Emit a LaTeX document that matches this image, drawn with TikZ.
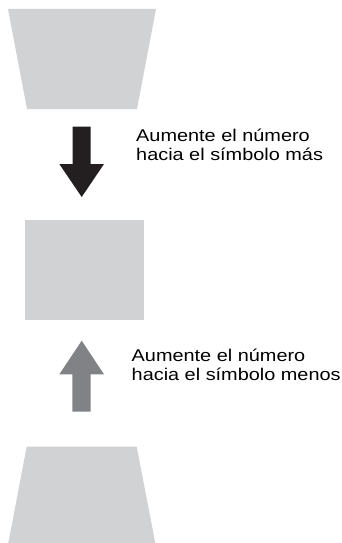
\documentclass[tikz,border=0pt]{standalone}
\usepackage{fontspec}
\setmainfont[FakeStretch=1.17]{Liberation Sans}
\definecolor{screen}{HTML}{D1D2D4}
\definecolor{darkarrow}{HTML}{231F20}
\definecolor{greyarrow}{HTML}{808285}
\begin{document}
\begin{tikzpicture}[x=1pt,y=-1pt,
  screenshape/.style={fill=screen},
  label/.style={anchor=base west,inner sep=0pt,align=left,
    font=\fontsize{17}{19}\selectfont,text=black}]
\useasboundingbox (0,0) rectangle (342,543);
% top keystone
\fill[screenshape] (8,9) -- (156,9) -- (137,109) -- (27,109) -- cycle;
% down arrow
\fill[darkarrow] (72.7,126.7) -- (90.7,126.7) -- (90.7,164) -- (104,164)
  -- (81.7,197) -- (59.3,164) -- (72.7,164) -- cycle;
\node[label] (t1) at (136,160.7) {Aumente el número\\hacia el símbolo más};
% middle rectangle
\fill[screenshape] (25,220) rectangle (144,320);
% up arrow
\fill[greyarrow] (72.3,411.7) -- (90.7,411.7) -- (90.7,374.3) -- (104,374.3)
  -- (81.7,340.7) -- (59.3,374.3) -- (72.3,374.3) -- cycle;
\node[label] (t2) at (131.5,380.7) {Aumente el número\\hacia el símbolo menos};
% bottom keystone
\fill[screenshape] (26.7,446.7) -- (136.7,446.7) -- (155.3,543) -- (8.3,543) -- cycle;
\end{tikzpicture}
\end{document}
